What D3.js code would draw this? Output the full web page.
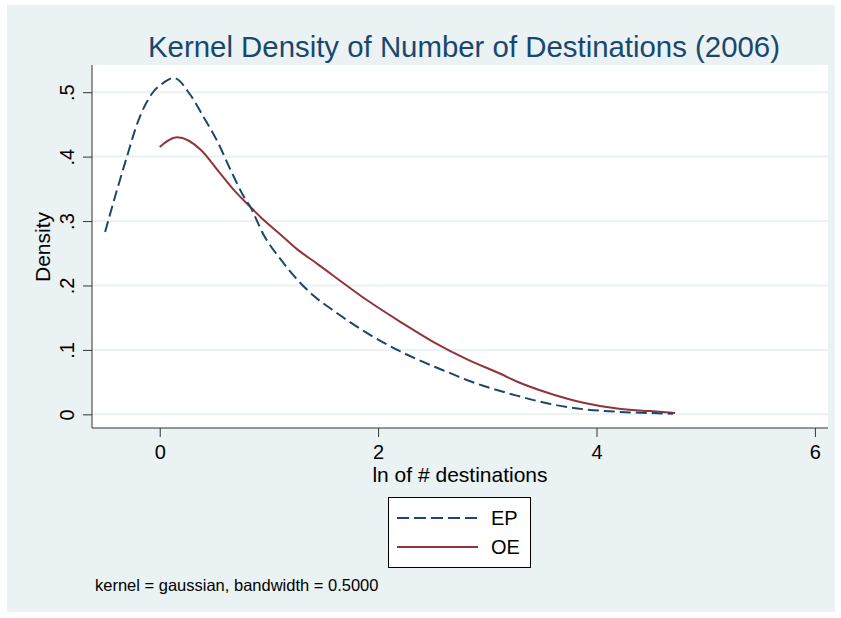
<!DOCTYPE html>
<html>
<head>
  <meta charset="UTF-8">
  <style>
    body { margin: 0; background: #ffffff; }
    svg text { font-family: "Liberation Sans", Arial, Helvetica, sans-serif; }
  </style>
</head>
<body>
  <svg id="chart" width="841" height="618"></svg>
  <script src="https://d3js.org/d3.v7.min.js"></script>
  <script>

  // EP curve (dashed)
  let epX = [-0.5, -0.4, -0.3, -0.2, -0.07, 0.03, 0.13, 0.28, 0.4, 0.53, 0.65, 0.77, 0.83, 0.95, 1.11, 1.26, 1.41, 1.6, 1.9, 2.2, 2.5, 2.66, 2.8, 2.97, 3.27, 3.58, 3.88, 4.19, 4.49, 4.7];
  let epY = [0.283, 0.343, 0.400, 0.454, 0.498, 0.514, 0.522, 0.496, 0.462, 0.423, 0.379, 0.338, 0.322, 0.279, 0.240, 0.209, 0.184, 0.160, 0.126, 0.098, 0.075, 0.064, 0.054, 0.044, 0.029, 0.016, 0.008, 0.004, 0.002, 0.001];

  // OE curve (solid)
  let oeX = [0, 0.16, 0.38, 0.53, 0.68, 0.83, 0.95, 1.1, 1.26, 1.44, 1.6, 1.9, 2.2, 2.5, 2.82, 3.12, 3.27, 3.58, 3.88, 4.19, 4.49, 4.72];
  let oeY = [0.415, 0.430, 0.410, 0.379, 0.348, 0.322, 0.302, 0.280, 0.256, 0.234, 0.214, 0.177, 0.144, 0.113, 0.085, 0.063, 0.051, 0.032, 0.018, 0.009, 0.005, 0.002];

  let xTicks = [0, 2, 4, 6];
  let yTicks = [0, 0.1, 0.2, 0.3, 0.4, 0.5];
  let yTickLabels = ["0", ".1", ".2", ".3", ".4", ".5"];

  let seriesNames = ["EP", "OE"];
  let seriesColors = ["#1a476f", "#90353b"];

  let svg = d3.select("#chart");

  //outer background with thin white margin
  svg.append("rect")
    .attr("x", 7).attr("y", 5)
    .attr("width", 828).attr("height", 607)
    .attr("fill", "#eaf2f3");

  let plot = {left: 92, right: 828, top: 65, bottom: 428};

  let x = d3.scaleLinear()
    .domain([-0.62, 6.12])
    .range([plot.left, plot.right]);

  let y = d3.scaleLinear()
    .domain([-0.0212, 0.5422])
    .range([plot.bottom, plot.top]);

  svg.append("rect")
    .attr("x", plot.left).attr("y", plot.top)
    .attr("width", plot.right - plot.left)
    .attr("height", plot.bottom - plot.top)
    .attr("fill", "#ffffff");

  //grid lines
  svg.append("g")
    .selectAll("line")
    .data(yTicks)
    .enter()
    .append("line")
    .attr("x1", plot.left).attr("x2", plot.right)
    .attr("y1", d => y(d)).attr("y2", d => y(d))
    .attr("stroke", "#eaf2f3")
    .attr("stroke-width", 2);

  //y axis
  let yAxis = svg.append("g")
    .attr("transform", "translate(" + plot.left + ",0)")
    .call(d3.axisLeft(y).tickValues(yTicks).tickSize(9).tickSizeOuter(0)
      .tickFormat((d, i) => yTickLabels[i]));
  yAxis.select(".domain").attr("stroke", "#333").attr("d", "M0," + plot.top + "V" + plot.bottom);
  yAxis.selectAll(".tick line").attr("stroke", "#333");
  yAxis.selectAll(".tick text")
    .attr("font-size", 20)
    .attr("fill", "#000")
    .attr("text-anchor", "middle")
    .attr("font-family", "Liberation Sans, Arial, sans-serif")
    .attr("transform", "translate(-18,0) rotate(-90)")
    .attr("x", 0).attr("y", 0)
    .attr("dy", 0);

  //x axis
  let xAxis = svg.append("g")
    .attr("transform", "translate(0," + plot.bottom + ")")
    .call(d3.axisBottom(x).tickValues(xTicks).tickSize(9).tickSizeOuter(0)
      .tickFormat(d3.format("d")));
  xAxis.select(".domain").attr("stroke", "#333").attr("d", "M" + plot.left + ",0H" + plot.right);
  xAxis.selectAll(".tick line").attr("stroke", "#333");
  xAxis.selectAll(".tick text")
    .attr("font-size", 20)
    .attr("fill", "#000")
    .attr("y", 17)
    .attr("dy", "0.71em")
    .attr("font-family", "Liberation Sans, Arial, sans-serif");

  //axis titles
  svg.append("text")
    .attr("x", (plot.left + plot.right) / 2)
    .attr("y", 482)
    .attr("text-anchor", "middle")
    .attr("font-size", 21)
    .text("ln of # destinations");

  svg.append("text")
    .attr("transform", "translate(50,247) rotate(-90)")
    .attr("text-anchor", "middle")
    .attr("font-size", 21)
    .text("Density");

  //title
  svg.append("text")
    .attr("x", 464)
    .attr("y", 57)
    .attr("text-anchor", "middle")
    .attr("font-size", 30)
    .attr("textLength", 632)
    .attr("lengthAdjust", "spacingAndGlyphs")
    .attr("fill", "#1a476f")
    .text("Kernel Density of Number of Destinations (2006)");

  //curves
  let line = d3.line()
    .x(d => x(d[0]))
    .y(d => y(d[1]))
    .curve(d3.curveMonotoneX);

  let epData = epX.map((v, i) => [v, epY[i]]);
  let oeData = oeX.map((v, i) => [v, oeY[i]]);

  svg.append("path")
    .datum(oeData)
    .attr("d", line)
    .attr("fill", "none")
    .attr("stroke", seriesColors[1])
    .attr("stroke-width", 2);

  svg.append("path")
    .datum(epData)
    .attr("d", line)
    .attr("fill", "none")
    .attr("stroke", seriesColors[0])
    .attr("stroke-width", 2)
    .attr("stroke-dasharray", "11,5");

  //legend
  let legend = svg.append("g");
  legend.append("rect")
    .attr("x", 388.5).attr("y", 497.5)
    .attr("width", 142).attr("height", 70)
    .attr("fill", "#ffffff")
    .attr("stroke", "#000")
    .attr("stroke-width", 1);

  seriesNames.forEach((name, i) => {
    let ly = 518 + i * 29;
    legend.append("line")
      .attr("x1", 397).attr("x2", 478)
      .attr("y1", ly).attr("y2", ly)
      .attr("stroke", seriesColors[i])
      .attr("stroke-width", 2)
      .attr("stroke-dasharray", i === 0 ? "12,5" : null);
    legend.append("text")
      .attr("x", 491).attr("y", ly + 7)
      .attr("font-size", 20)
      .text(name);
  });

  //note
  svg.append("text")
    .attr("x", 95).attr("y", 591)
    .attr("font-size", 16.5)
    .text("kernel = gaussian, bandwidth = 0.5000");

  </script>
</body>
</html>
